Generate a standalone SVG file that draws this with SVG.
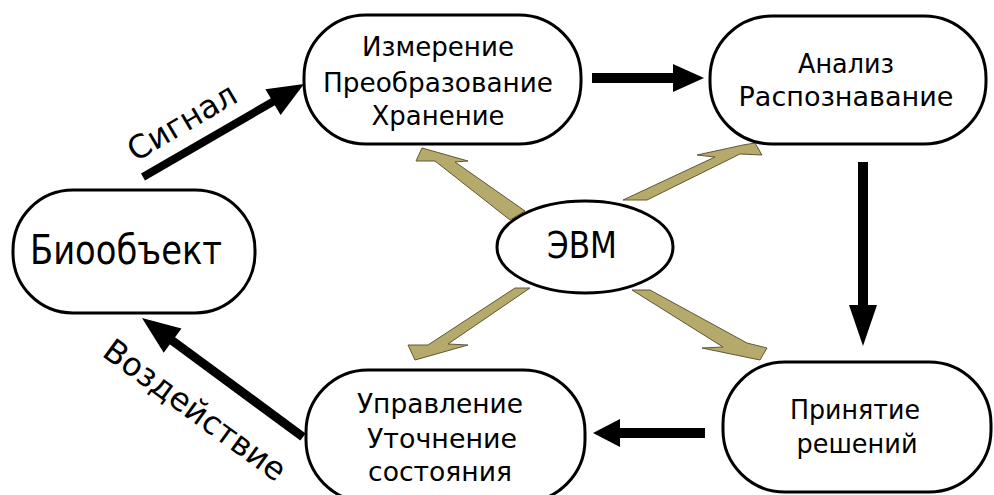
<svg xmlns="http://www.w3.org/2000/svg" width="994" height="495" viewBox="0 0 994 495">
<style>
.node{fill:#fff;stroke:#000;stroke-width:3}
.t{font-family:"DejaVu Sans","Liberation Sans",sans-serif;font-size:26.5px;fill:#000;text-anchor:middle}
.big{font-size:41px}
.lbl{font-family:"DejaVu Sans","Liberation Sans",sans-serif;font-size:32px;fill:#000;text-anchor:middle}
.line{stroke:#000;fill:none}
.head{fill:#000}
.kh{fill:#b5aa6b;stroke:#5e5836;stroke-width:1;stroke-linejoin:miter}
</style>
<rect width="994" height="495" fill="#fff"/>
<g id="connectors">
  <g id="evm-arrows">
    <polygon class="kh" points="422,148 468,161 455,162 525,211 510,220 435,161 416,161"/>
    <polygon class="kh" points="623,200 715,157 697,155 743,145 755,143 762,155 740,154 647,200"/>
    <polygon class="kh" points="515,288 530,288 448,344 468,345 415,360 408,345 428,345"/>
    <polygon class="kh" points="632,290 650,290 747,343 767,348 760,360 702,348 723,347"/>
  </g>
  <g id="signal">
    <line class="line" x1="143" y1="177" x2="276" y2="100" stroke-width="8"/>
    <polygon class="head" points="304,84 280.6,115.1 265.4,89.3"/>
    <text class="lbl" transform="translate(182,122) rotate(-30.5)" y="11">Сигнал</text>
  </g>
  <g id="top">
    <line class="line" x1="592" y1="78" x2="676" y2="78" stroke-width="10"/>
    <polygon class="head" points="704,78 673,64 673,92"/>
  </g>
  <g id="down">
    <line class="line" x1="863" y1="162" x2="863" y2="310" stroke-width="10"/>
    <polygon class="head" points="863,346 849,305 877,305"/>
  </g>
  <g id="bottom">
    <line class="line" x1="705" y1="433" x2="616" y2="433" stroke-width="10"/>
    <polygon class="head" points="593,433 620,419 620,447"/>
  </g>
  <g id="effect">
    <line class="line" x1="303" y1="437" x2="170" y2="339" stroke-width="9"/>
    <polygon class="head" points="142,318 181.5,328.5 163.7,352.7"/>
    <text class="lbl" transform="translate(195,410) rotate(36)" y="11">Воздействие</text>
  </g>
</g>
<g id="node-measure">
  <rect class="node" x="304" y="15" width="277" height="129" rx="62" ry="62"/>
  <text class="t" x="438" y="56" textLength="152" lengthAdjust="spacingAndGlyphs">Измерение</text>
  <text class="t" x="438" y="92" textLength="230" lengthAdjust="spacingAndGlyphs">Преобразование</text>
  <text class="t" x="438" y="125" textLength="133" lengthAdjust="spacingAndGlyphs">Хранение</text>
</g>
<g id="node-analysis">
  <rect class="node" x="710" y="16" width="276" height="128" rx="62" ry="62"/>
  <text class="t" x="846" y="73" textLength="96" lengthAdjust="spacingAndGlyphs">Анализ</text>
  <text class="t" x="846" y="106" textLength="215" lengthAdjust="spacingAndGlyphs">Распознавание</text>
</g>
<g id="node-evm">
  <ellipse class="node" cx="585" cy="247" rx="88" ry="46"/>
  <text class="t" x="582" y="258" style="font-size:38px" textLength="70" lengthAdjust="spacingAndGlyphs">ЭВМ</text>
</g>
<g id="node-bio">
  <rect class="node" x="13" y="190" width="242" height="123" rx="60" ry="60"/>
  <text class="t big" x="126" y="264" textLength="192" lengthAdjust="spacingAndGlyphs">Биообъект</text>
</g>
<g id="node-control">
  <rect class="node" x="306" y="370" width="279" height="132" rx="62" ry="62"/>
  <text class="t" x="440" y="413" textLength="166" lengthAdjust="spacingAndGlyphs">Управление</text>
  <text class="t" x="442" y="448" textLength="150" lengthAdjust="spacingAndGlyphs">Уточнение</text>
  <text class="t" x="440" y="481" textLength="144" lengthAdjust="spacingAndGlyphs">состояния</text>
</g>
<g id="node-decision">
  <rect class="node" x="723" y="362" width="268" height="130" rx="62" ry="62"/>
  <text class="t" x="855" y="419" textLength="130" lengthAdjust="spacingAndGlyphs">Принятие</text>
  <text class="t" x="857" y="453" textLength="121" lengthAdjust="spacingAndGlyphs">решений</text>
</g>
</svg>
